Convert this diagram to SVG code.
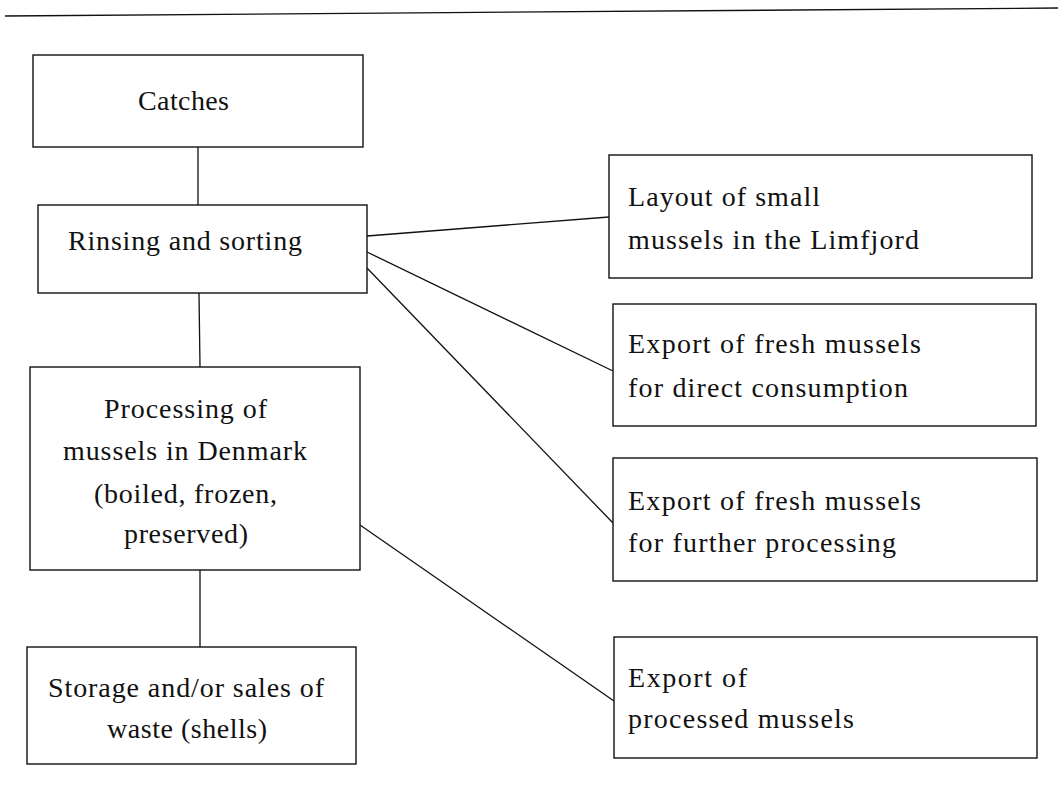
<svg xmlns="http://www.w3.org/2000/svg" width="1058" height="797" viewBox="0 0 1058 797">
<style>
.box{fill:#fff;stroke:#111;stroke-width:1.4}
.ln{stroke:#111;stroke-width:1.3;fill:none}
text{font-family:"Liberation Serif","Times New Roman",serif;font-size:28px;fill:#111}
</style>
<rect width="1058" height="797" fill="#fff"/>
<line class="ln" x1="5" y1="16" x2="1058" y2="8"/>
<g id="connectors">
<line class="ln" x1="198" y1="147" x2="198" y2="205"/>
<line class="ln" x1="199" y1="293" x2="200" y2="367"/>
<line class="ln" x1="200" y1="570" x2="200" y2="647"/>
<line class="ln" x1="367" y1="236" x2="609" y2="217"/>
<line class="ln" x1="367" y1="252" x2="613" y2="371"/>
<line class="ln" x1="367" y1="268" x2="613" y2="523"/>
<line class="ln" x1="360" y1="525" x2="614" y2="701"/>
</g>
<g id="catches">
<rect class="box" x="33" y="55" width="330" height="92"/>
<text x="138" y="110" textLength="91" lengthAdjust="spacing">Catches</text>
</g>
<g id="rinsing">
<rect class="box" x="38" y="205" width="329" height="88"/>
<text x="68" y="250" textLength="234" lengthAdjust="spacing">Rinsing and sorting</text>
</g>
<g id="processing">
<rect class="box" x="30" y="367" width="330" height="203"/>
<text x="104" y="418" textLength="163" lengthAdjust="spacing">Processing of</text>
<text x="63" y="460" textLength="244" lengthAdjust="spacing">mussels in Denmark</text>
<text x="94" y="503" textLength="183" lengthAdjust="spacing">(boiled, frozen,</text>
<text x="124" y="543" textLength="124" lengthAdjust="spacing">preserved)</text>
</g>
<g id="storage">
<rect class="box" x="27" y="647" width="329" height="117"/>
<text x="48" y="697" textLength="276" lengthAdjust="spacing">Storage and/or sales of</text>
<text x="107" y="738" textLength="160" lengthAdjust="spacing">waste (shells)</text>
</g>
<g id="layout">
<rect class="box" x="609" y="155" width="423" height="123"/>
<text x="628" y="206" textLength="192" lengthAdjust="spacing">Layout of small</text>
<text x="628" y="249" textLength="291" lengthAdjust="spacing">mussels in the Limfjord</text>
</g>
<g id="export-direct">
<rect class="box" x="613" y="304" width="423" height="122"/>
<text x="628" y="353" textLength="293" lengthAdjust="spacing">Export of fresh mussels</text>
<text x="628" y="397" textLength="280" lengthAdjust="spacing">for direct consumption</text>
</g>
<g id="export-further">
<rect class="box" x="613" y="458" width="424" height="123"/>
<text x="628" y="510" textLength="293" lengthAdjust="spacing">Export of fresh mussels</text>
<text x="628" y="552" textLength="268" lengthAdjust="spacing">for further processing</text>
</g>
<g id="export-processed">
<rect class="box" x="614" y="637" width="423" height="121"/>
<text x="628" y="687" textLength="119" lengthAdjust="spacing">Export of</text>
<text x="628" y="728" textLength="226" lengthAdjust="spacing">processed mussels</text>
</g>
</svg>
